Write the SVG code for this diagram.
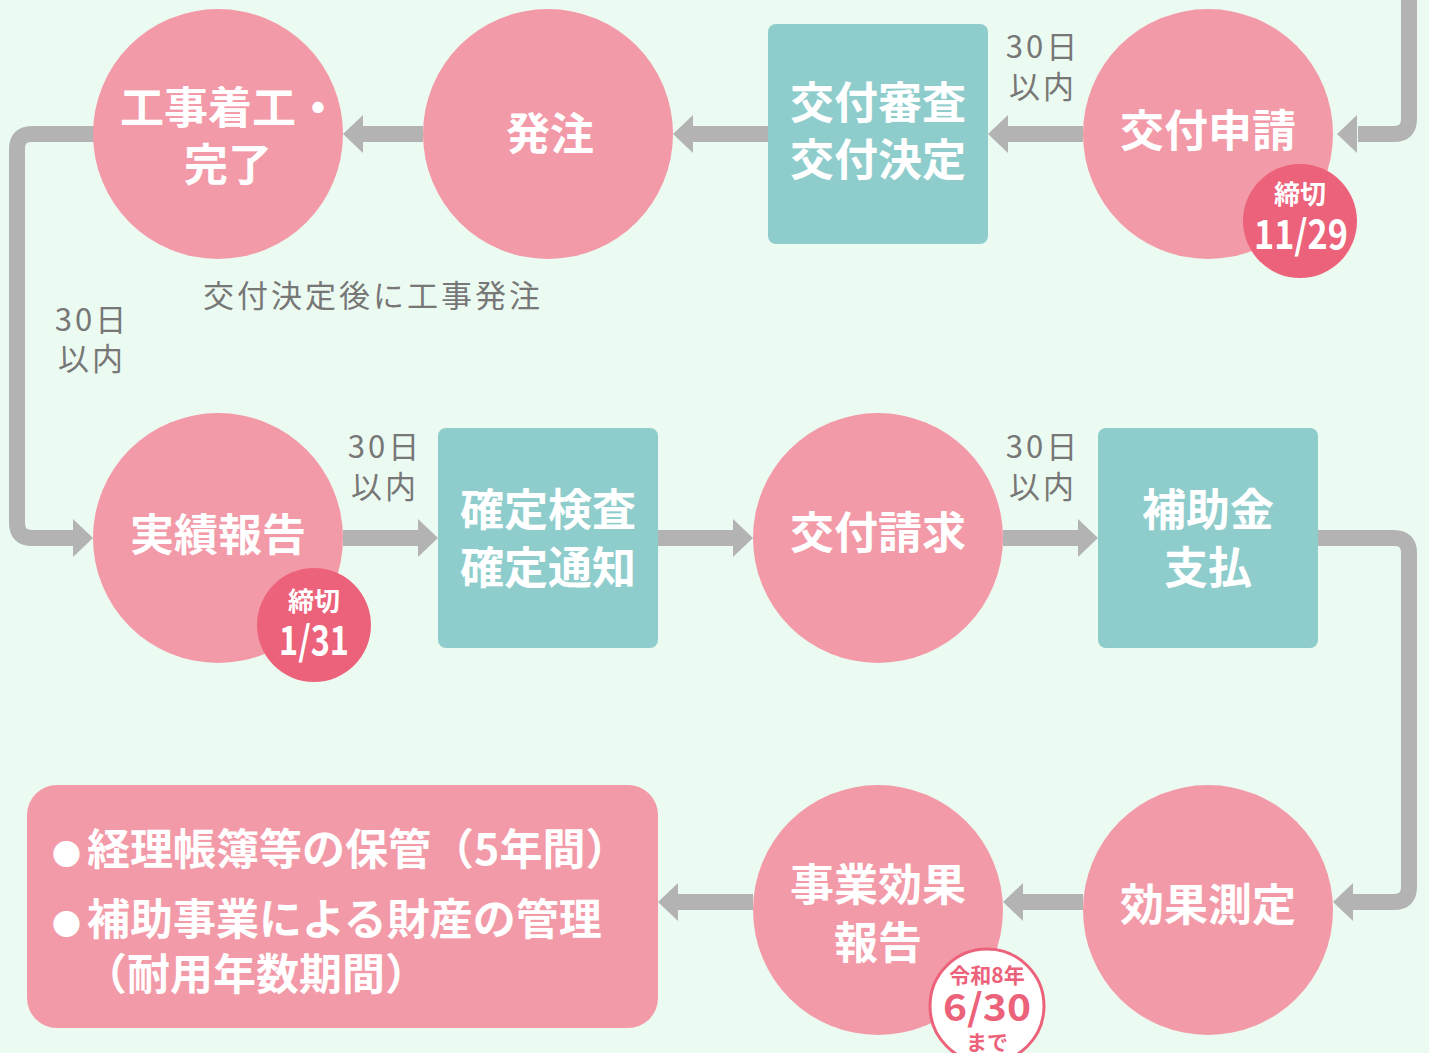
<svg xmlns="http://www.w3.org/2000/svg" width="1429" height="1053" viewBox="0 0 1429 1053">
<defs>
<style>
.c{fill:#f39aa8}
.b{fill:#8ecdcc}
.bd{fill:#ec627a}
.t{font-family:"Noto Sans CJK JP","Noto Sans",sans-serif;font-weight:700;fill:#fff;text-anchor:middle;font-size:44px}
.g{font-family:"Noto Sans CJK JP","Noto Sans",sans-serif;font-weight:400;fill:#777;text-anchor:middle;font-size:31px;letter-spacing:3px}
.bt{font-family:"Noto Sans CJK JP","Noto Sans",sans-serif;font-weight:700;fill:#fff;text-anchor:middle}
.pt{font-family:"Noto Sans CJK JP","Noto Sans",sans-serif;font-weight:700;fill:#ec627a;text-anchor:middle}
.lt{font-family:"Noto Sans CJK JP","Noto Sans",sans-serif;font-weight:700;fill:#fff;font-size:43px}
.ln{fill:none;stroke:#b3b3b3;stroke-width:16;stroke-linejoin:round}
.ah{fill:#b3b3b3}
</style>
</defs>
<rect width="1429" height="1053" fill="#ecfbf1"/>
<g id="connectors">
<path class="ln" d="M1409,0 V119 Q1409,134 1394,134 H1358" />
<path class="ah" d="M1337,134 L1357,115 L1357,153 Z"/>
<path class="ln" d="M1083,134 H1005"/>
<path class="ah" d="M988,134 L1008,115 L1008,153 Z"/>
<path class="ln" d="M768,134 H690"/>
<path class="ah" d="M673,134 L693,115 L693,153 Z"/>
<path class="ln" d="M423,134 H360"/>
<path class="ah" d="M343,134 L363,115 L363,153 Z"/>
<path class="ln" d="M100,134 H32 Q17,134 17,149 V523 Q17,538 32,538 H76"/>
<path class="ah" d="M93,538 L73,519 L73,557 Z"/>
<path class="ln" d="M343,538 H421"/>
<path class="ah" d="M438,538 L418,519 L418,557 Z"/>
<path class="ln" d="M658,538 H736"/>
<path class="ah" d="M753,538 L733,519 L733,557 Z"/>
<path class="ln" d="M1003,538 H1081"/>
<path class="ah" d="M1098,538 L1078,519 L1078,557 Z"/>
<path class="ln" d="M1318,538 H1394 Q1409,538 1409,553 V887 Q1409,902 1394,902 H1352"/>
<path class="ah" d="M1333,902 L1353,883 L1353,921 Z"/>
<path class="ln" d="M1083,902 H1020"/>
<path class="ah" d="M1003,902 L1023,883 L1023,921 Z"/>
<path class="ln" d="M753,902 H675"/>
<path class="ah" d="M658,902 L678,883 L678,921 Z"/>
</g>
<g id="labels">
<text class="g" x="1043" y="58">30日</text>
<text class="g" x="1043" y="98">以内</text>
<text class="g" x="92" y="331">30日</text>
<text class="g" x="92" y="370">以内</text>
<text class="g" x="385" y="458">30日</text>
<text class="g" x="385" y="498">以内</text>
<text class="g" x="1043" y="458">30日</text>
<text class="g" x="1043" y="498">以内</text>
<text class="g" x="373" y="307" font-size="32">交付決定後に工事発注</text>
</g>
<g id="n-koji">
<circle class="c" cx="218" cy="134" r="125"/>
<text class="t" x="230" y="124">工事着工・</text>
<text class="t" x="228" y="181">完了</text>
</g>
<g id="n-hatchu">
<circle class="c" cx="548" cy="134" r="125"/>
<text class="t" x="550" y="150">発注</text>
</g>
<g id="n-shinsa">
<rect class="b" x="768" y="24" width="220" height="220" rx="8"/>
<text class="t" x="878" y="119">交付審査</text>
<text class="t" x="878" y="176">交付決定</text>
</g>
<g id="n-shinsei">
<circle class="c" cx="1208" cy="134" r="125"/>
<text class="t" x="1208" y="147">交付申請</text>
<circle class="bd" cx="1300" cy="221" r="57"/>
<text class="bt" x="1300" y="204" font-size="26" font-weight="500">締切</text>
<text class="bt" x="1301" y="249" font-size="40" font-weight="500" textLength="94" lengthAdjust="spacingAndGlyphs">11/29</text>
</g>
<g id="n-jisseki">
<circle class="c" cx="218" cy="538" r="125"/>
<text class="t" x="218" y="551">実績報告</text>
<circle class="bd" cx="314" cy="625" r="57"/>
<text class="bt" x="314" y="611" font-size="26" font-weight="500">締切</text>
<text class="bt" x="314" y="655" font-size="40" font-weight="500" textLength="70" lengthAdjust="spacingAndGlyphs">1/31</text>
</g>
<g id="n-kakutei">
<rect class="b" x="438" y="428" width="220" height="220" rx="8"/>
<text class="t" x="548" y="526">確定検査</text>
<text class="t" x="548" y="584">確定通知</text>
</g>
<g id="n-seikyu">
<circle class="c" cx="878" cy="538" r="125"/>
<text class="t" x="878" y="549">交付請求</text>
</g>
<g id="n-shiharai">
<rect class="b" x="1098" y="428" width="220" height="220" rx="8"/>
<text class="t" x="1208" y="526">補助金</text>
<text class="t" x="1208" y="584">支払</text>
</g>
<g id="n-sokutei">
<circle class="c" cx="1208" cy="910" r="125"/>
<text class="t" x="1208" y="921">効果測定</text>
</g>
<g id="n-houkoku">
<circle class="c" cx="878" cy="910" r="125"/>
<text class="t" x="878" y="901">事業効果</text>
<text class="t" x="878" y="959">報告</text>
<circle cx="987" cy="1006" r="57" fill="#fff" stroke="#ec627a" stroke-width="3"/>
<text class="pt" x="987" y="983" font-size="21">令和8年</text>
<text class="pt" x="987" y="1021" font-size="37" textLength="88" lengthAdjust="spacingAndGlyphs">6/30</text>
<text class="pt" x="987" y="1050" font-size="21">まで</text>
</g>
<g id="n-kanri">
<rect class="c" x="27" y="785" width="631" height="243" rx="30"/>
<text class="lt" x="52" y="865"><tspan font-size="29">●</tspan><tspan dx="6">経理帳簿等の保管（5年間）</tspan></text>
<text class="lt" x="52" y="935"><tspan font-size="29">●</tspan><tspan dx="6">補助事業による財産の管理</tspan></text>
<text class="lt" x="84" y="990">（耐用年数期間）</text>
</g>
</svg>
